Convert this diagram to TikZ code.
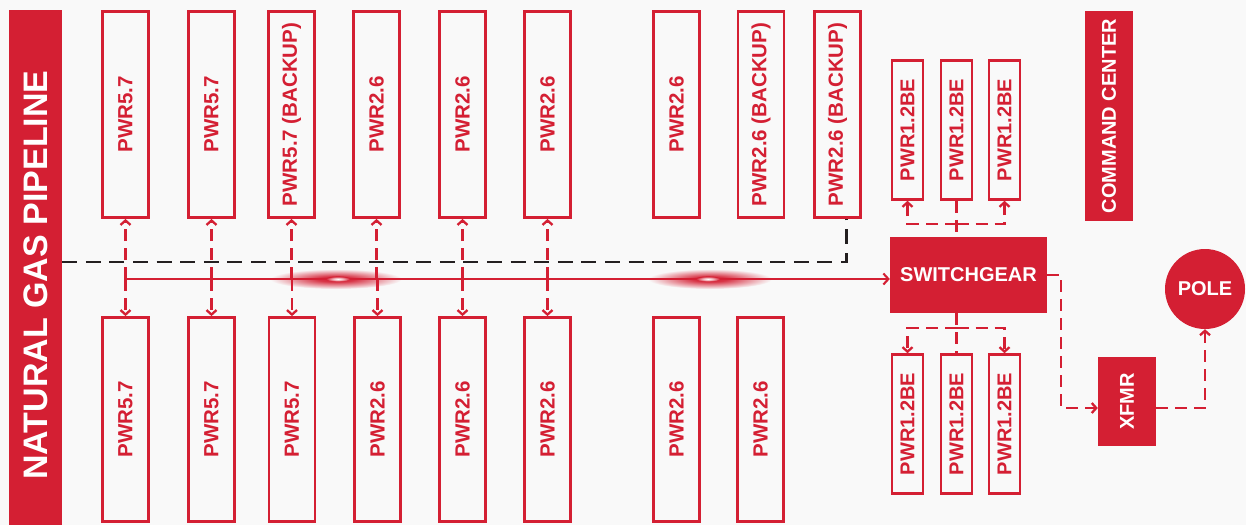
\documentclass[tikz,border=0pt]{standalone}
\usepackage{fontspec}
\setmainfont{Liberation Sans}
\usetikzlibrary{arrows.meta,calc}
\definecolor{brand}{HTML}{D41F33}
\definecolor{bg}{HTML}{F9F9F9}
\definecolor{gasink}{HTML}{231F20}
% red glow that fades out to the backdrop
\pgfdeclareradialshading{feedglow}{\pgfpoint{0bp}{0bp}}{%
  color(0bp)=(brand); color(7bp)=(brand!90!bg); color(16bp)=(brand!45!bg);
  color(25bp)=(bg); color(50bp)=(bg)}
% bright white core of a glow
\pgfdeclareradialshading{glowcore}{\pgfpoint{0bp}{0bp}}{%
  color(0bp)=(white); color(10bp)=(white!70!brand); color(25bp)=(brand); color(50bp)=(brand)}

\begin{document}
\begin{tikzpicture}[x=1pt,y=-1pt,
  unitbox/.style={draw=brand, line width=2.8pt, minimum width=46pt, inner sep=0pt,
    text=brand, font=\bfseries\fontsize{20.5}{24}\selectfont},
  smallbox/.style={draw=brand, line width=2.6pt, minimum width=31pt, minimum height=139pt,
    inner sep=0pt, text=brand, font=\bfseries\fontsize{20}{24}\selectfont},
  solidbox/.style={fill=brand, draw=none, inner sep=0pt, text=white,
    font=\bfseries\fontsize{20}{24}\selectfont},
  reddash/.style={draw=brand, line width=2.3pt, dash pattern=on 12pt off 7pt},
  barb/.style={-{Straight Barb[length=4.5pt,width=10pt]}},
  feedline/.style={draw=brand, line width=2.1pt, -{Straight Barb[length=5pt,width=11pt]}},
  gasline/.style={draw=gasink, line width=2.2pt, dash pattern=on 15pt off 8.6pt}]

% backdrop, also fixes the page size
\fill[bg] (0,0) rectangle (1246,525);

% soft glows along the feed line
\shade[shading=feedglow] (336,279) ellipse [x radius=66pt, y radius=10pt];
\shade[shading=feedglow] (710,279) ellipse [x radius=62pt, y radius=10pt];

% pipeline bar
\node[fill=brand, minimum width=53pt, minimum height=515pt, inner sep=0pt] (bar) at (35.5,267.5) {};
\node[text=white, font=\bfseries\fontsize{34}{36}\selectfont, inner sep=0pt] (bartext) at (36,275)
  {\rotatebox{90}{NATURAL GAS PIPELINE}};

% upper row of generator units
\foreach \n/\x/\t in {1/125.5/{PWR5.7}, 2/211.5/{PWR5.7}, 3/291.5/{PWR5.7 (BACKUP)},
    4/376.5/{PWR2.6}, 5/462.5/{PWR2.6}, 6/547.5/{PWR2.6}, 7/676.5/{PWR2.6},
    8/761/{PWR2.6 (BACKUP)}, 9/837.5/{PWR2.6 (BACKUP)}}
  \node[unitbox, minimum height=206pt] (t\n) at (\x,114.5) {\rotatebox{90}{\t}};

% lower row of generator units
\foreach \n/\x/\t in {1/125.5/{PWR5.7}, 2/211.5/{PWR5.7}, 3/292/{PWR5.7},
    4/377.5/{PWR2.6}, 5/462.5/{PWR2.6}, 6/547.5/{PWR2.6}, 7/676.5/{PWR2.6},
    8/760.5/{PWR2.6}}
  \node[unitbox, minimum height=204pt] (b\n) at (\x,419.5) {\rotatebox{90}{\t}};

% battery units around the switchgear
\foreach \n/\x in {1/907.5, 2/956.5, 3/1004.5} {
  \node[smallbox] (s\n) at (\x,130) {\rotatebox{90}{PWR1.2BE}};
  \node[smallbox] (l\n) at (\x,424) {\rotatebox{90}{PWR1.2BE}};
}

\node[solidbox, minimum width=157pt, minimum height=76pt] (sw) at (968.5,275) {SWITCHGEAR};
\node[solidbox, minimum width=48pt, minimum height=210pt] (cc) at (1109,116) {\rotatebox{90}{COMMAND CENTER}};
\node[solidbox, minimum width=58pt, minimum height=89pt] (xf) at (1127,401.5) {\rotatebox{90}{XFMR}};
\node[solidbox, circle, minimum size=80pt] (pole) at (1205,289) {POLE};

% gas supply line to the backup unit
\path (bar.east) ++(0,-5.5) coordinate (gasin);
\path (t9.south) ++(9,0) coordinate (gasout);
\draw[gasline] (gasin) -| (gasout);

% unit connections to the common feed
\coordinate (feed) at (125.5,279);
\foreach \n in {1,...,6} {
  \draw[reddash, barb] (feed -| t\n.south) -- (t\n.south);
  \draw[reddash, barb] (feed -| b\n.north) -- (b\n.north);
}
\draw[feedline] (feed) -- (feed -| sw.west);

% bright cores of the glows
\shade[shading=glowcore] (338,279) ellipse [x radius=12pt, y radius=2.6pt];
\shade[shading=glowcore] (708,279) ellipse [x radius=12pt, y radius=2.6pt];

% switchgear to battery units
\coordinate (uj) at (956.5,224);
\coordinate (lj) at (956.5,328);
\draw[reddash] (s2.south) -- (s2.south |- sw.north);
\draw[reddash, barb] (uj) -| (s1.south);
\draw[reddash, barb] (uj) -| (s3.south);
\draw[reddash] (sw.south -| l2.north) -- (l2.north);
\draw[reddash, barb] (lj) -| (l1.north);
\draw[reddash, barb] (lj) -| (l3.north);

% switchgear to transformer to pole
\path (xf.west) ++(0,6.5) coordinate (xin);
\path (xf.east) ++(0,6.5) coordinate (xout);
\draw[reddash, barb] (sw.east) -- ++(14,0) |- (xin);
\draw[reddash, barb] (xout) -| (pole.south);
\end{tikzpicture}
\end{document}
